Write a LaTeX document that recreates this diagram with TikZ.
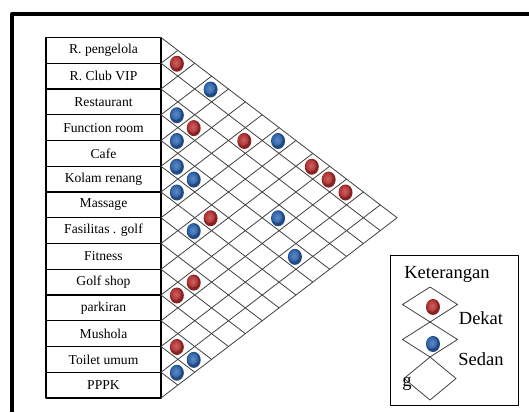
\documentclass[tikz,border=0pt]{standalone}
\usepackage{fontspec}
\setmainfont{Liberation Serif}
\definecolor{dotred}{RGB}{178,48,48}
\definecolor{dotblue}{RGB}{45,98,170}
\tikzset{
  roombox/.style={draw=black, line width=1.2pt, minimum width=115pt, minimum height=25.75pt, inner sep=0pt, font=\fontsize{13.6}{14}\selectfont},
  gridline/.style={draw=black!75, line width=0.8pt},
  legendtext/.style={inner sep=0pt, font=\fontsize{18.5}{20}\selectfont}
}
% Bille ombrée
\newcommand{\bille}[3]{%
  \fill[#3!75!black] (#1,#2) ellipse (7 and 8);
  \shade[inner color=#3!75!white, outer color=#3] (#1-1,#2-1.2) ellipse (5.3 and 6.2);
}
\begin{document}
\begin{tikzpicture}[x=1pt, y=-1pt, line join=round, line cap=round]
\useasboundingbox (0,0) rectangle (529,412);

% Cadre extérieur
\draw[line width=4pt, line cap=butt] (12,412) -- (12,14) -- (529,14);

% Noms des ruangan
\foreach \k/\name in {0/R. pengelola, 1/R. Club VIP, 2/Restaurant, 3/Function room, 4/Cafe, 5/Kolam renang, 6/Massage, 7/Fasilitas . golf, 8/Fitness, 9/Golf shop, 10/parkiran, 11/Mushola, 12/Toilet umum, 13/PPPK} {
    \node[roombox] (r\k) at (103.5, {37.5+25.75*(\k+0.5)}) {\name};
}

% Grille en losanges
\foreach \k in {0,...,14} {
    \draw[gridline] (161,{37.5+25.75*\k}) -- ++({(14-\k)*25.75/2*1.31},{(14-\k)*25.75/2});
    \draw[gridline] (161,{37.5+25.75*\k}) -- ++({\k*25.75/2*1.31},{-\k*25.75/2});
}

% Relations (i/j/couleur)
\foreach \i/\j/\c in {0/1/dotred, 0/3/dotblue, 2/3/dotblue, 2/4/dotred, 1/6/dotred, 0/7/dotblue, 3/4/dotblue, 4/5/dotblue, 0/9/dotred, 0/10/dotred, 0/11/dotred, 4/6/dotblue, 5/6/dotblue, 5/8/dotred, 3/10/dotblue, 6/8/dotblue, 4/12/dotblue, 8/10/dotred, 9/10/dotred, 11/12/dotred, 11/13/dotblue, 12/13/dotblue} {
    \pgfmathsetmacro\bx{160+(\j-\i)*25.75/2*1.31}
    \pgfmathsetmacro\by{38+25.75*(\i+\j+1)/2}
    \bille{\bx}{\by}{\c}
}

% Keterangan
\draw[line width=1pt] (390,255) rectangle (518,405);
\node[legendtext] (ket) at (447,274) {Keterangan};
\foreach \cy/\hw/\hh in {304.5/27.5/17.5, 339.5/27.5/17.5, 378.5/26/21.5} {
    \draw[gridline] (430-\hw,\cy) -- (430,\cy-\hh) -- (430+\hw,\cy) -- (430,\cy+\hh) -- cycle;
}
\bille{433}{307}{dotred}
\bille{433}{344}{dotblue}
\node[legendtext] (dekat) at (481,318) {Dekat};
\node[legendtext] (sedang) at (481,359) {Sedan};
\node[legendtext] (g) at (407,384) {g};

\end{tikzpicture}
\end{document}
